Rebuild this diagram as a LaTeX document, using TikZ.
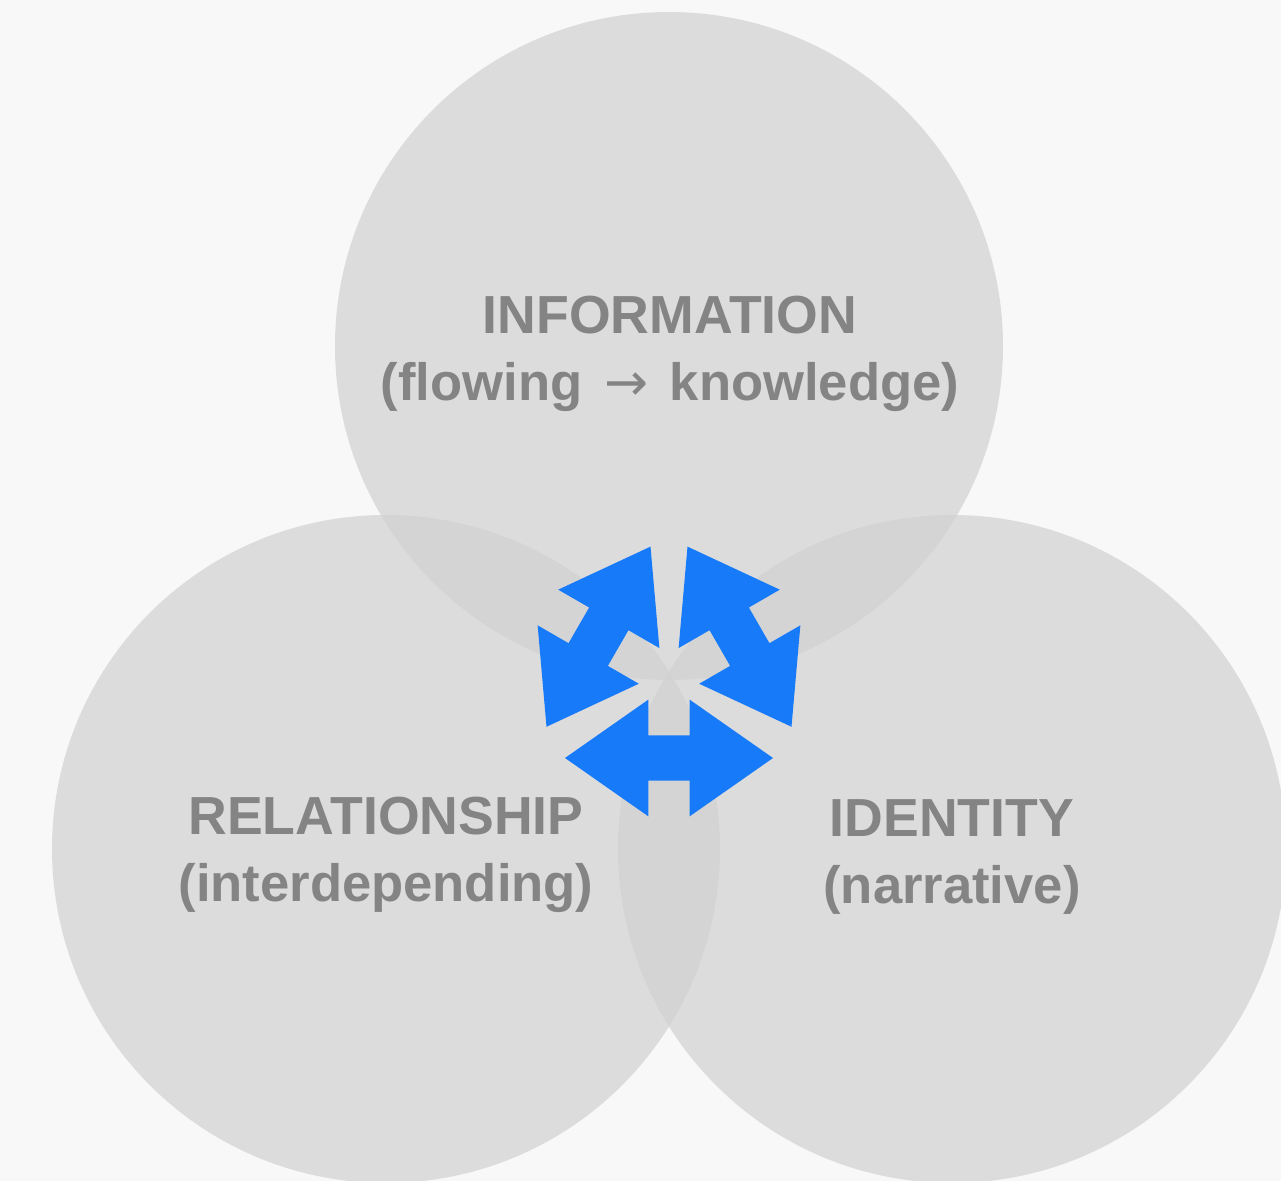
\documentclass[tikz,border=0pt]{standalone}
\usepackage{fontspec}
\usepackage{xcolor}
\usepackage{tikz}
\usetikzlibrary{shapes,arrows,positioning}
\setmainfont{Liberation Sans}
\newfontfamily\arrowfont{DejaVu Sans}
\newcommand{\subline}[1]{{\fontsize{26.3pt}{33.5pt}\selectfont #1}}
\definecolor{pagegray}{RGB}{248,248,248}
\definecolor{circlegray}{RGB}{209,209,209}
\definecolor{textgray}{RGB}{132,132,132}
\definecolor{flowblue}{RGB}{23,122,249}

\begin{document}
\begin{tikzpicture}[
    x=0.5pt, y=-0.5pt,
    disc/.style={circle, fill=circlegray, fill opacity=0.7, minimum size=334pt, inner sep=0pt},
    flow/.style={double arrow, fill=flowblue, minimum height=104pt, minimum width=58pt, inner xsep=0pt, inner ysep=11.15pt,
        double arrow head extend=17.85pt, double arrow head indent=0pt, double arrow tip angle=70},
    title/.style={align=center, text=textgray, font=\fontsize{26.8pt}{33.5pt}\bfseries\selectfont}
]
    \fill[pagegray] (0,0) rectangle (1281,1181);
    \useasboundingbox (0,0) rectangle (1281,1181);
    \node[disc] (info) at (669,346) {};
    \node[disc] (rel) at (386,849) {};
    \node[disc] (ident) at (952,849) {};
    \node[flow, rotate=60] (flowL) at (598.5,636.7) {};
    \node[flow, rotate=-60] (flowR) at (739.5,636.7) {};
    \node[flow] (flowB) at (669,758) {};
    \node[title] (infoT) at (670,353.5) {INFORMATION\\\subline{(flowing\hspace{3.5pt} {\arrowfont\mdseries →}\hspace{3.5pt} knowledge)}};
    \node[title] (relT) at (386,854.5) {RELATIONSHIP\\\subline{(interdepending)}};
    \node[title] (identT) at (952,857.5) {IDENTITY\\\subline{(narrative)}};
\end{tikzpicture}
\end{document}
